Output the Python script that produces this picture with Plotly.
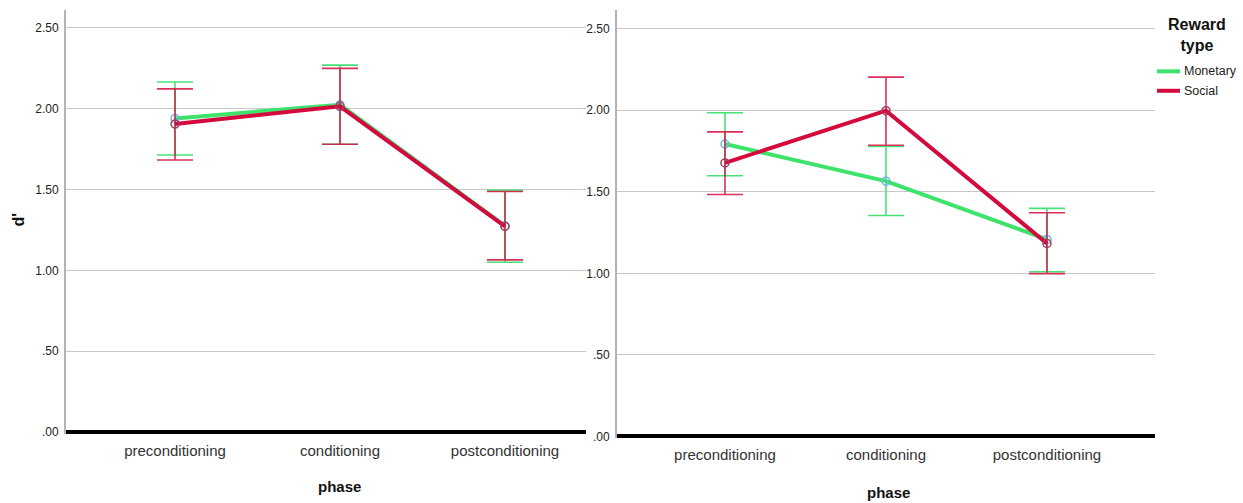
import plotly.graph_objects as go

# ---- data -------------------------------------------------------------
phases = ["preconditioning", "conditioning", "postconditioning"]

# left panel: mean d' with 95% CI bounds
left_monetary_mean = [1.94, 2.025, 1.275]
left_monetary_hi = [2.165, 2.27, 1.495]
left_monetary_lo = [1.714, 1.78, 1.05]
left_social_mean = [1.905, 2.015, 1.272]
left_social_hi = [2.123, 2.25, 1.488]
left_social_lo = [1.683, 1.78, 1.065]

# right panel
right_monetary_mean = [1.793, 1.565, 1.208]
right_monetary_hi = [1.985, 1.778, 1.398]
right_monetary_lo = [1.598, 1.355, 1.010]
right_social_mean = [1.677, 1.997, 1.183]
right_social_hi = [1.867, 2.203, 1.371]
right_social_lo = [1.483, 1.785, 0.998]

y_tickvals = [0, 0.5, 1.0, 1.5, 2.0, 2.5]
y_ticktext = [".00", ".50", "1.00", "1.50", "2.00", "2.50"]

reward_types = ["Monetary", "Social"]

# ---- styles -----------------------------------------------------------
W, H = 1243, 503
SY = 0.9925
FONT = "Liberation Sans, Arial, sans-serif"
STYLE = {
    "Monetary": dict(line="#3ee36c", marker="#72b2ee", err="#47e277"),
    "Social": dict(line="#d4093d", marker="#a23c5e", err="rgba(212,20,66,0.88)"),
}


def px_x(p):
    return p / W


def px_y(p):
    return 1 - (p / SY) / H


fig = go.Figure()


def add_series(name, mean, hi, lo, xaxis, yaxis):
    st = STYLE[name]
    fig.add_trace(go.Scatter(
        x=phases, y=mean, name=name, mode="lines+markers",
        xaxis=xaxis, yaxis=yaxis, showlegend=False,
        line=dict(color=st["line"], width=4),
        marker=dict(symbol="circle-open", size=8, color=st["marker"],
                    line=dict(width=1.5, color=st["marker"])),
        error_y=dict(type="data", symmetric=False,
                     array=[h - m for h, m in zip(hi, mean)],
                     arrayminus=[m - l for m, l in zip(mean, lo)],
                     color=st["err"], thickness=1.6, width=18),
    ))


add_series("Monetary", left_monetary_mean, left_monetary_hi, left_monetary_lo, "x", "y")
add_series("Social", left_social_mean, left_social_hi, left_social_lo, "x", "y")
add_series("Monetary", right_monetary_mean, right_monetary_hi, right_monetary_lo, "x2", "y2")
add_series("Social", right_social_mean, right_social_hi, right_social_lo, "x2", "y2")

yaxis_common = dict(
    tickvals=y_tickvals, ticktext=y_ticktext,
    tickfont=dict(family=FONT, size=12, color="#222"),
    showgrid=True, gridcolor="#c8c8c8", gridwidth=1,
    showline=True, linecolor="#b4b4b4", linewidth=2,
    zeroline=True, zerolinecolor="#000", zerolinewidth=4,
    ticks="", ticklabelstandoff=3, fixedrange=True,
)
xaxis_common = dict(
    type="category", showgrid=False, showline=False, zeroline=False,
    ticks="", tickfont=dict(family=FONT, size=15, color="#333"),
    ticklabelstandoff=6, fixedrange=True,
)

# legend drawn as a key: short line swatches plus labels
shapes = []
legend_items = []
for i, name in enumerate(reward_types):
    yy = px_y(71.5 + 19.5 * i)
    shapes.append(dict(type="line", xref="paper", yref="paper",
                       x0=px_x(1157), x1=px_x(1180), y0=yy, y1=yy,
                       line=dict(color=STYLE[name]["line"], width=4)))
    legend_items.append(dict(text=name, x=px_x(1182), y=yy, xref="paper", yref="paper",
                             xanchor="left", yanchor="middle", showarrow=False,
                             font=dict(family=FONT, size=12.5, color="#222")))

fig.update_layout(
    width=W, height=H,
    margin=dict(l=0, r=0, t=0, b=0),
    paper_bgcolor="white", plot_bgcolor="white",
    showlegend=False,
    xaxis=dict(xaxis_common, domain=[px_x(66), px_x(586)], range=[-0.6606, 2.491]),
    yaxis=dict(yaxis_common, domain=[px_y(435), px_y(10)], range=[-2 / 162, 423 / 162],
               anchor="x"),
    xaxis2=dict(xaxis_common, domain=[px_x(617), px_x(1155)], range=[-0.6708, 2.671],
                anchor="y2"),
    yaxis2=dict(yaxis_common, domain=[px_y(439.5), px_y(10)],
                range=[-2 / 163.5, 427.5 / 163.5], anchor="x2"),
    shapes=shapes,
    annotations=legend_items + [
        dict(text="<b>Reward<br>type</b>", x=px_x(1197), y=px_y(14), xref="paper", yref="paper",
             xanchor="center", yanchor="top", showarrow=False, align="center",
             font=dict(family=FONT, size=16, color="#111")),
        dict(text="<b>d'</b>", x=px_x(18), y=px_y(220), xref="paper", yref="paper",
             xanchor="center", yanchor="middle", showarrow=False, textangle=-90,
             font=dict(family=FONT, size=16, color="#111")),
        dict(text="<b>phase</b>", x=px_x(339), y=px_y(488), xref="paper", yref="paper",
             xanchor="center", yanchor="middle", showarrow=False,
             font=dict(family=FONT, size=15, color="#111")),
        dict(text="<b>phase</b>", x=px_x(888), y=px_y(494), xref="paper", yref="paper",
             xanchor="center", yanchor="middle", showarrow=False,
             font=dict(family=FONT, size=15, color="#111")),
    ],
)

fig.write_html("out.html")
